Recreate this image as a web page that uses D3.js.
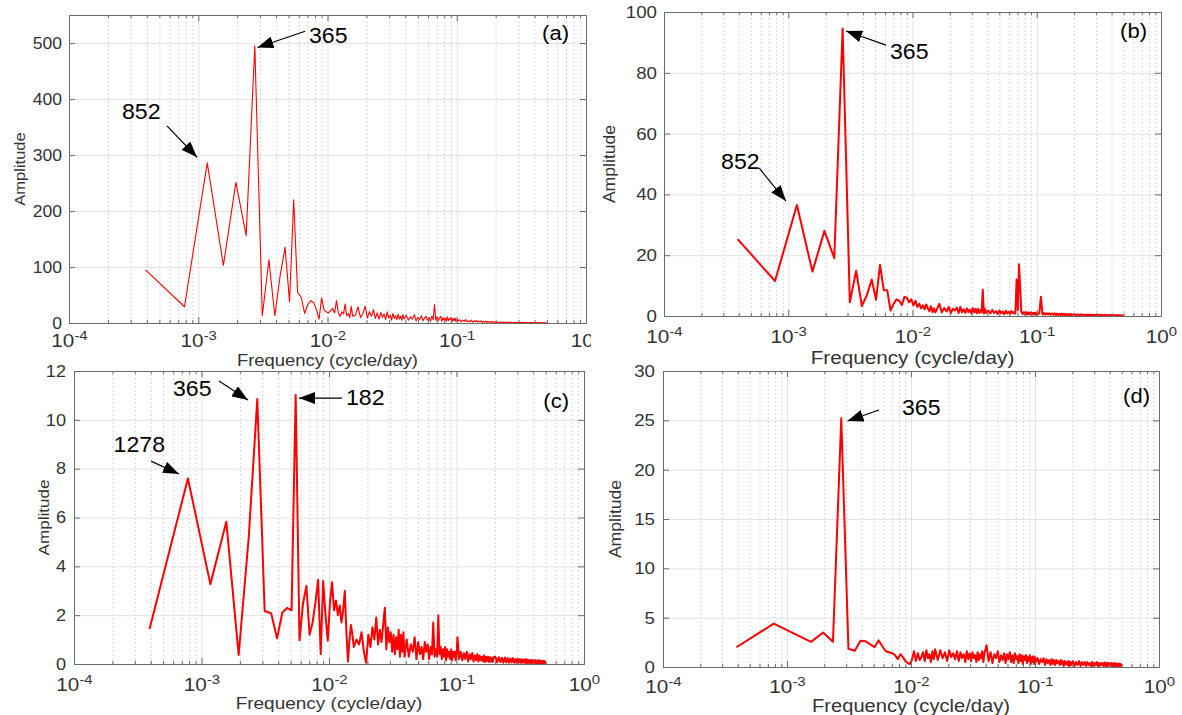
<!DOCTYPE html>
<html>
<head>
<meta charset="utf-8">
<script src="https://cdn.jsdelivr.net/npm/d3@7"></script>
<style>
  body { margin: 0; background: #fff; }
  text { font-family: "Liberation Sans", Arial, sans-serif; }
</style>
</head>
<body>
<div id="chart"></div>
<script>
// ---- data: amplitude spectra of a 7-year daily record (harmonic k -> k / recordDays cycle/day)
var recordDays = 2556;

var harmonic = [1,2,3,4,5,6,7,8,9,10,11,12,13,14,15,16,17,18,19,20,21,22,23,24,25,26,27,28,29,30,
  31,32,33,34,35,36,37,38,39,40,
  42,44,46,48,50,52,54,56,58,60,62,64,66,68,70,72,74,76,78,80,82,84,86,88,90,92,94,96,98,100,
  104,108,112,116,120,124,128,132,136,140,144,148,152,156,160,164,168,172,176,180,
  184,188,192,196,200,204,208,212,216,220,224,228,232,236,240,244,248,252,256,260,
  268,276,284,292,300,308,316,324,332,340,348,356,364,372,380,388,396,404,412,420,
  428,436,444,452,460,468,476,484,492,500,
  516,532,548,564,580,596,612,628,644,660,676,692,708,724,740,756,772,788,804,820,
  836,852,868,884,900,916,932,948,964,980,996,1012,1028,1044,1060,1076,1092,1108,1124,1140,
  1156,1172,1188,1204,1220,1236,1252,1268,1278];

var ampA = [95,29,286,103,251,156,495,13,113,13,85,135,38,220,55,46,17,33,40,36,24,7,45,24,20,18,22,26,18,40,
  18,12,20,16,34,13,17,10,30,12,
  14,29,10,17,30,9,20,12,24,8,18,7,19,10,16,6,20,9,14,5,17,8,13,6,16,7,12,5,15,7,
  14,5,11,7,15,4,10,6,13,4,9,12,5,10,3,12,6,33,5,11,
  4,9,12,3,10,5,9,3,11,4,8,6,10,3,8,4,9,3,7,3,
  6,2,5,3,6,2,4,2,5,1.5,4,2,4.5,1.5,3.5,2,4,1,3,1.5,
  3.5,1,3,1.5,2.5,1,3,1,2.5,1,
  2,0.8,1.8,0.6,2,0.7,1.5,0.5,1.7,0.5,1.4,0.6,1.5,0.4,1.2,0.5,1.3,0.4,1.1,0.3,
  1.2,0.4,1,0.3,0.9,0.4,1,0.3,0.8,0.2,0.9,0.3,0.8,0.2,0.7,0.3,0.7,0.2,0.6,0.2,
  0.7,0.2,0.6,0.2,0.5,0.2,0.5,0.2,0.4];

var ampB = [25.3,11.5,36.5,14.6,28,19,94.6,4.5,14.9,3.3,7,12,5.3,16.8,8.5,8.5,1.8,4,5.5,5,3.6,6.3,6,4.5,5.5,3.5,5,3,4,2.5,
  3.5,2.2,3.8,2.5,1.6,3.2,1.3,2.5,1.2,2.0,
  4,1.2,2.6,1.5,3,1,2.4,1.8,2.8,1,3,1.2,2.2,1,2.5,1.3,2.1,0.9,2.6,1.2,2.3,0.9,2.4,1,2,1.2,8.6,0.8,2.3,1,
  1.8,0.8,2,1,1.6,0.7,1.8,0.9,1.5,0.6,1.7,0.8,1.4,0.7,1.6,0.9,1.3,0.8,12,2,
  17,9,1.4,0.7,1.2,0.6,1.3,0.5,1.2,0.6,1.1,0.5,1.2,0.5,1,0.6,1.1,0.4,1,0.5,
  0.9,6.3,0.5,1,0.4,0.9,0.5,0.9,0.4,0.8,0.4,0.9,0.3,0.8,0.4,0.7,0.3,0.8,0.3,0.7,
  0.3,0.7,0.3,0.6,0.3,0.6,0.2,0.6,0.3,0.5,
  0.6,0.2,0.5,0.2,0.6,0.2,0.5,0.15,0.5,0.2,0.45,0.15,0.5,0.15,0.4,0.2,0.45,0.15,0.4,0.1,
  0.4,0.15,0.35,0.1,0.4,0.1,0.35,0.1,0.3,0.1,0.35,0.1,0.3,0.1,0.3,0.1,0.3,0.1,0.25,0.1,
  0.3,0.1,0.25,0.1,0.25,0.1,0.2,0.1,0.2];

var ampC = [1.43,7.6,3.27,5.83,0.37,5.2,10.85,2.17,2.07,1.05,2.1,2.3,2.2,11.02,0.97,2.5,3.2,1.2,1.7,2.5,3.45,0.4,3.4,2.0,0.95,2.5,3.35,2.2,2.6,2.0,
  2.4,1.7,2.2,3.0,1.3,0.1,1.0,1.6,1.2,0.7,
  1.0,0.8,1.3,0.5,0.05,1.2,0.7,1.5,1.0,1.9,0.8,1.4,0.9,1.6,2.3,0.6,1.5,0.9,1.3,0.5,1.2,0.4,1.1,0.6,1.4,0.3,1.2,0.5,1.3,0.3,
  1.0,0.3,0.8,0.5,1.1,0.2,0.9,0.4,0.7,0.2,0.9,0.5,0.8,0.2,0.7,0.4,1.7,0.3,0.6,0.3,
  2.0,0.4,0.7,0.2,0.6,0.3,0.7,0.15,0.6,0.3,0.5,0.2,0.6,0.15,0.5,0.3,0.5,0.15,0.4,1.1,
  0.2,0.5,0.15,0.45,0.2,0.5,0.1,0.4,0.2,0.45,0.1,0.35,0.15,0.4,0.1,0.35,0.15,0.3,0.1,0.35,
  0.08,0.3,0.12,0.3,0.08,0.28,0.1,0.25,0.08,0.28,
  0.3,0.06,0.28,0.08,0.25,0.05,0.27,0.06,0.24,0.05,0.22,0.06,0.24,0.05,0.2,0.04,0.22,0.05,0.2,0.04,
  0.19,0.05,0.18,0.04,0.2,0.03,0.17,0.04,0.16,0.03,0.17,0.04,0.15,0.03,0.16,0.03,0.14,0.03,0.15,0.02,
  0.14,0.03,0.13,0.02,0.13,0.03,0.12,0.02,0.1];

var ampD = [2.0,4.4,3.3,2.55,3.5,2.55,25.2,1.85,1.65,2.65,2.6,2.3,2.0,2.7,2.1,1.6,1.5,1.4,1.2,0.8,1.3,1.0,0.6,0.4,0.3,0.7,1.6,0.6,1.4,0.7,
  1.0,1.5,0.6,1.7,0.9,1.3,0.5,1.6,0.8,1.8,
  0.7,1.7,0.9,1.5,0.6,1.7,1.0,1.4,0.8,1.6,0.6,1.5,0.9,1.3,0.5,1.6,0.8,1.4,0.6,1.5,0.9,1.2,0.5,1.5,0.7,1.3,0.9,1.6,0.5,1.4,
  2.2,0.6,1.5,0.4,1.3,0.9,1.6,0.5,1.2,0.7,1.4,0.4,1.3,0.8,1.5,0.5,1.2,0.4,1.4,0.8,
  1.1,0.4,1.3,0.6,1.2,0.3,1.1,0.7,1.2,0.4,1.0,0.6,1.2,0.3,1.0,0.5,1.1,0.3,1.0,0.5,
  0.9,0.3,0.8,0.5,0.9,0.2,0.8,0.4,0.7,0.2,0.8,0.3,0.7,0.2,0.7,0.4,0.6,0.2,0.7,0.3,
  0.6,0.1,0.6,0.3,0.5,0.2,0.6,0.1,0.5,0.2,
  0.6,0.1,0.5,0.2,0.6,0.1,0.5,0.2,0.5,0.1,0.5,0.2,0.4,0.1,0.5,0.1,0.4,0.2,0.5,0.1,
  0.4,0.1,0.4,0.2,0.4,0.1,0.45,0.1,0.4,0.1,0.4,0.15,0.35,0.1,0.4,0.1,0.35,0.1,0.4,0.1,
  0.35,0.1,0.3,0.1,0.35,0.1,0.3,0.1,0.3];

// tick labels
var decadeTicks = [1e-4, 1e-3, 1e-2, 1e-1, 1];
var decadeExp = ["-4", "-3", "-2", "-1", "0"];
var yTicksA = [0, 100, 200, 300, 400, 500];
var yTicksB = [0, 20, 40, 60, 80, 100];
var yTicksC = [0, 2, 4, 6, 8, 10, 12];
var yTicksD = [0, 5, 10, 15, 20, 25, 30];

// annotations: label text + arrow (tail -> tip) in [frequency, amplitude]
var notesA = [
  {text: "365", at: [0.00719, 500], from: [0.00671, 521], to: [0.00287, 492]},
  {text: "852", at: [0.000257, 364], from: [0.000573, 352], to: [0.000978, 296]}
];
var notesB = [
  {text: "365", at: [0.00659, 84.5], from: [0.00612, 89.1], to: [0.00292, 93.75]},
  {text: "852", at: [0.000288, 48.4], from: [0.000582, 48.7], to: [0.000959, 37.8]}
];
var notesC = [
  {text: "365", at: [0.000598, 10.97], from: [0.001372, 11.59], to: [0.002315, 10.81]},
  {text: "182", at: [0.01359, 10.61], from: [0.01265, 10.89], to: [0.005817, 10.89]},
  {text: "1278", at: [0.0002045, 8.68], from: [0.0004017, 8.31], to: [0.000666, 7.78]}
];
var notesD = [
  {text: "365", at: [0.00846, 25.54], from: [0.005519, 26.05], to: [0.003075, 24.93]}
];

[ampA, ampB, ampC, ampD].forEach(function(a, i) {
  if (a.length !== harmonic.length) throw new Error("series " + i + " has " + a.length + " values, expected " + harmonic.length);
});

var svgWidth = 1182, svgHeight = 715;
var svg = d3.select("#chart").append("svg")
  .attr("width", svgWidth)
  .attr("height", svgHeight)
  .style("background", "#fff");

var defs = svg.append("defs");
defs.append("clipPath").attr("id", "clipA")
  .append("rect").attr("x", 0).attr("y", 0).attr("width", 591).attr("height", 372);
defs.append("marker")
  .attr("id", "head")
  .attr("viewBox", "0 0 16 12")
  .attr("refX", 16).attr("refY", 6)
  .attr("markerUnits", "userSpaceOnUse")
  .attr("markerWidth", 16).attr("markerHeight", 12)
  .attr("orient", "auto")
  .append("path").attr("d", "M0,0 L16,6 L0,12 Z").attr("fill", "#000");

// panel layout
var panels = [
  {amp: ampA, yMax: 550, yTicks: yTicksA, notes: notesA, tag: "(a)", clip: "clipA",
   left: 69, right: 586, top: 15, bottom: 323, lw: 1.1, font: 16, xFont: 18.5, xPad: 11, yPad: 7,
   ylabX: 25, xlabY: 366, xlabFont: 16, tagDx: 17, tagY: 40},
  {amp: ampB, yMax: 100, yTicks: yTicksB, notes: notesB, tag: "(b)",
   left: 664, right: 1161, top: 12, bottom: 316, lw: 2, font: 17, xFont: 18.5, xPad: 14, yPad: 7,
   ylabX: 615, xlabY: 364, xlabFont: 18, tagDx: 14, tagY: 38},
  {amp: ampC, yMax: 12, yTicks: yTicksC, notes: notesC, tag: "(c)",
   left: 74, right: 584, top: 371, bottom: 664, lw: 2, font: 16.5, xFont: 18.5, xPad: 14, yPad: 8,
   ylabX: 49, xlabY: 709, xlabFont: 16.5, tagDx: 15, tagY: 408},
  {amp: ampD, yMax: 30, yTicks: yTicksD, notes: notesD, tag: "(d)",
   left: 663, right: 1159, top: 371, bottom: 667, lw: 2, font: 17, xFont: 18.5, xPad: 13, yPad: 8,
   ylabX: 621, xlabY: 712, xlabFont: 17.5, tagDx: 9, tagY: 403}
];

// the source figure is slightly widened, so text is stretched a little
function stretch(sel, k) {
  sel.each(function() {
    var len = this.getComputedTextLength();
    d3.select(this).attr("textLength", len * k).attr("lengthAdjust", "spacingAndGlyphs");
  });
}

function drawPanel(p) {
  var g = svg.append("g");
  if (p.clip) g.attr("clip-path", "url(#" + p.clip + ")");
  var w = p.right - p.left, h = p.bottom - p.top;

  var x = d3.scaleLog().domain([1e-4, 1]).range([p.left, p.right]);
  var y = d3.scaleLinear().domain([0, p.yMax]).range([p.bottom, p.top]);
  var minor = x.ticks().filter(function(d) {
    var e = Math.log10(d);
    return Math.abs(e - Math.round(e)) > 1e-6;
  });

  // grid
  g.append("g").attr("transform", `translate(0,${p.bottom})`)
    .call(d3.axisBottom(x).tickValues(minor).tickSize(-h).tickFormat(""))
    .call(s => s.select(".domain").remove())
    .selectAll("line").attr("stroke", "#cfcfcf").attr("stroke-dasharray", "1.5,2.5");
  g.append("g").attr("transform", `translate(0,${p.bottom})`)
    .call(d3.axisBottom(x).tickValues(decadeTicks).tickSize(-h).tickFormat(""))
    .call(s => s.select(".domain").remove())
    .selectAll("line").attr("stroke", "#e2e2e2");
  g.append("g").attr("transform", `translate(${p.left},0)`)
    .call(d3.axisLeft(y).tickValues(p.yTicks).tickSize(-w).tickFormat(""))
    .call(s => s.select(".domain").remove())
    .selectAll("line").attr("stroke", "#e2e2e2");

  // spectrum
  var pts = harmonic.map(function(k, i) { return {f: k / recordDays, a: p.amp[i]}; });
  g.append("path")
    .datum(pts)
    .attr("fill", "none")
    .attr("stroke", "#ff0000")
    .attr("stroke-width", p.lw)
    .attr("stroke-linejoin", "round")
    .attr("d", d3.line().x(d => x(d.f)).y(d => y(d.a)));

  // axes (ticks pointing inward, box on)
  var axisColor = "#6b6b6b";
  var xb = g.append("g").attr("transform", `translate(0,${p.bottom})`)
    .call(d3.axisBottom(x).tickValues(decadeTicks).tickSizeInner(-6).tickSizeOuter(0).tickPadding(p.xPad)
      .tickFormat(function() { return "10"; }));
  xb.selectAll(".tick text")
    .attr("fill", "#333")
    .attr("font-size", p.xFont)
    .append("tspan")
    .attr("dy", "-0.55em")
    .attr("font-size", p.xFont * 0.72)
    .text(function(d, i) { return decadeExp[i]; });
  xb.selectAll(".tick text").call(stretch, 1.12);
  g.append("g").attr("transform", `translate(0,${p.bottom})`)
    .call(d3.axisBottom(x).tickValues(minor).tickSizeInner(-3).tickSizeOuter(0).tickFormat(""));
  g.append("g").attr("transform", `translate(0,${p.top})`)
    .call(d3.axisTop(x).tickValues(decadeTicks).tickSizeInner(-6).tickSizeOuter(0).tickFormat(""));
  g.append("g").attr("transform", `translate(0,${p.top})`)
    .call(d3.axisTop(x).tickValues(minor).tickSizeInner(-3).tickSizeOuter(0).tickFormat(""));
  var yl = g.append("g").attr("transform", `translate(${p.left},0)`)
    .call(d3.axisLeft(y).tickValues(p.yTicks).tickSizeInner(-6).tickSizeOuter(0).tickPadding(p.yPad));
  yl.selectAll(".tick text").attr("fill", "#333").attr("font-size", p.font).call(stretch, 1.1);
  g.append("g").attr("transform", `translate(${p.right},0)`)
    .call(d3.axisRight(y).tickValues(p.yTicks).tickSizeInner(-6).tickSizeOuter(0).tickFormat(""));
  g.selectAll(".domain").attr("stroke", axisColor);
  g.selectAll(".tick line").filter(function() { return d3.select(this).attr("stroke") === "currentColor"; })
    .attr("stroke", axisColor);

  // axis titles
  g.append("text")
    .attr("transform", `translate(${p.ylabX},${(p.top + p.bottom) / 2}) rotate(-90)`)
    .attr("text-anchor", "middle")
    .attr("font-size", p.font - 1)
    .attr("fill", "#333")
    .text("Amplitude")
    .call(stretch, 1.1);
  g.append("text")
    .attr("x", (p.left + p.right) / 2)
    .attr("y", p.xlabY)
    .attr("text-anchor", "middle")
    .attr("font-size", p.xlabFont)
    .attr("fill", "#333")
    .text("Frequency (cycle/day)")
    .call(stretch, 1.15);

  // panel tag
  g.append("text")
    .attr("x", p.right - p.tagDx)
    .attr("y", p.tagY)
    .attr("text-anchor", "end")
    .attr("font-size", 20)
    .attr("fill", "#000")
    .text(p.tag)
    .call(stretch, 1.1);

  // annotations
  p.notes.forEach(function(n) {
    g.append("line")
      .attr("x1", x(n.from[0])).attr("y1", y(n.from[1]))
      .attr("x2", x(n.to[0])).attr("y2", y(n.to[1]))
      .attr("stroke", "#000")
      .attr("stroke-width", 1.2)
      .attr("marker-end", "url(#head)");
    g.append("text")
      .attr("x", x(n.at[0]))
      .attr("y", y(n.at[1]))
      .attr("font-size", 22)
      .attr("fill", "#000")
      .text(n.text)
      .call(stretch, 1.05);
  });
}

panels.forEach(drawPanel);
</script>
</body>
</html>
